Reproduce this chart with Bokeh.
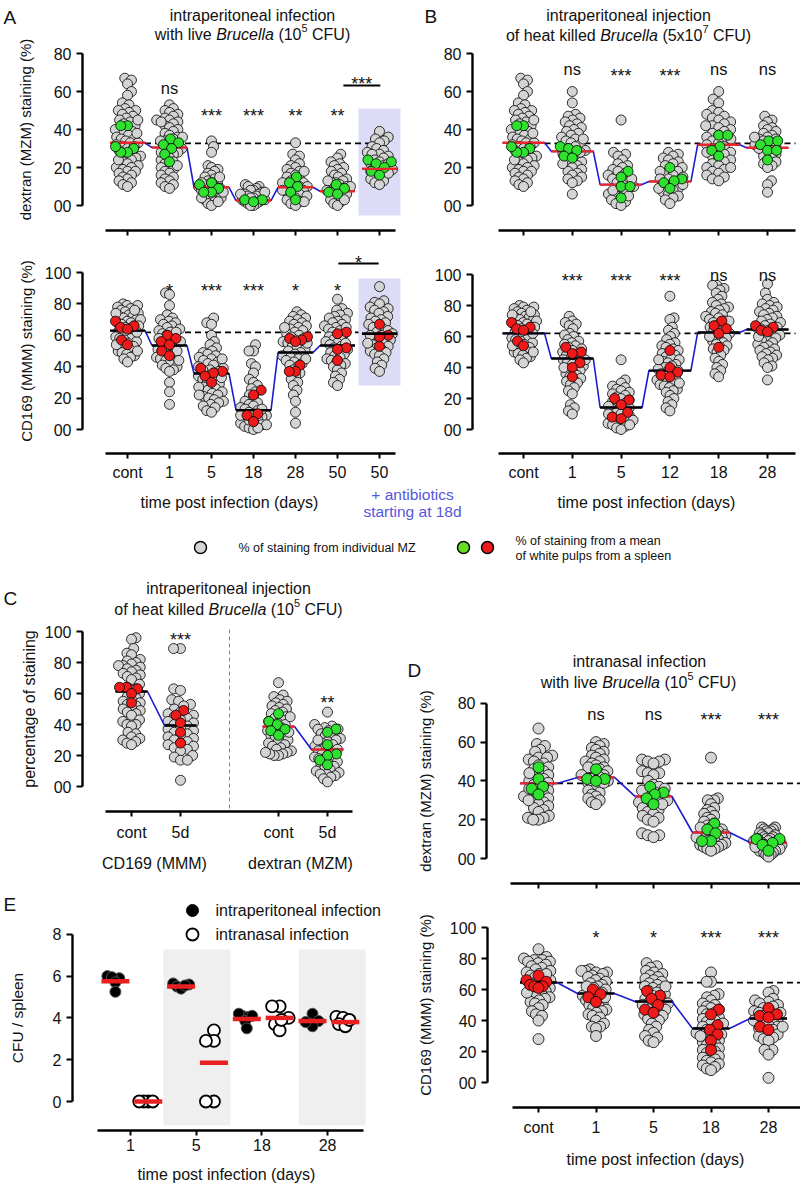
import numpy as np
from bokeh.plotting import figure
from bokeh.models import LinearAxis, FixedTicker, Range1d, BoxAnnotation
from bokeh.embed import file_html
from bokeh.resources import INLINE
from bokeh.core.properties import value

FONT = "Liberation Sans"
INK = "#111111"
GRAY = "#d4d4d4"
GREEN = "#2fe02f"
RED = "#ee1a1a"
MEANRED = "#e8262c"
BLUE = "#1c1cd0"
LAV = "#dcdcf7"
ABX = "#5656e0"
SHADE = "#efefef"

# ---------------------------------------------------------------- data
DEX_CTRL = [67, 66, 64, 60, 58, 54, 53, 51, 50, 50, 49, 48, 47, 46, 45, 44, 43, 42, 41, 40, 40, 39, 38, 37,
            36, 35, 35, 34, 33, 33, 32, 31, 30, 29, 28, 27, 26, 26, 25, 24, 23, 22, 21, 20, 20, 19, 18, 18,
            17, 16, 15, 14, 13, 12, 11, 10, 45, 38, 31, 24]
DEX_CTRL_SPLEEN = [42, 42, 30, 28, 28, 31]
CD_CTRL = [80, 79, 79, 78, 77, 76, 75, 74, 73, 72, 72, 71, 70, 69, 68, 68, 67, 66, 65, 64, 63, 62, 61, 60,
           59, 58, 57, 56, 55, 54, 53, 52, 51, 50, 49, 48, 47, 46, 45, 43, 70, 66, 62, 58, 54, 50, 76, 74]
CD_CTRL_SPLEEN = [69, 66, 65, 64, 57, 54]

# Panel A : intraperitoneal, live Brucella 10^5
A_DAYS = ["cont", "1", "5", "18", "28", "50", "50"]
A_DEX = [
    DEX_CTRL,
    [53, 51, 50, 49, 48, 47, 46, 45, 45, 44, 43, 42, 41, 40, 39, 38, 37, 36, 35, 34, 34, 33, 32, 31, 30, 30,
     29, 28, 27, 26, 25, 24, 23, 22, 21, 20, 19, 18, 17, 16, 15, 14, 13, 12, 11, 10, 9, 44, 36, 28, 21],
    [34, 31, 28, 21, 20, 19, 18, 17, 16, 15, 14, 13, 12, 12, 11, 10, 10, 9, 8, 8, 7, 6, 6, 5, 4, 4, 3, 2, 1,
     0, 12, 15, 9, 7, 4, 2],
    [11, 10, 10, 9, 8, 8, 7, 6, 6, 5, 5, 4, 4, 3, 3, 2, 2, 1, 1, 0, 0, 6, 3, 7],
    [33, 27, 26, 24, 22, 21, 20, 19, 18, 17, 16, 15, 14, 13, 12, 12, 11, 10, 10, 9, 8, 8, 7, 6, 5, 4, 3, 2,
     1, 0, 18, 12, 8, 5, 2],
    [27, 25, 23, 22, 21, 20, 19, 18, 17, 16, 15, 14, 13, 12, 12, 11, 10, 10, 9, 8, 8, 7, 6, 5, 4, 3, 2, 1, 0,
     13, 9, 6, 3],
    [39, 36, 35, 34, 33, 31, 30, 29, 28, 27, 27, 26, 25, 24, 23, 22, 21, 20, 19, 18, 17, 16, 15, 14, 13, 12,
     11, 22, 19, 17],
]
A_DEX_SPLEEN = [DEX_CTRL_SPLEEN, [35, 33, 32, 30, 27, 23], [12, 11, 9, 7, 7], [3, 3, 2],
                [15, 12, 10, 7, 3], [11, 9, 7, 6], [24, 23, 22, 20, 18, 16]]
A_DEX_MEAN = [33, 30.5, 9.6, 2.6, 9.6, 7.5, 19.3]
A_DEX_CTRL_LINE = 32.7

A_CD = [
    CD_CTRL,
    [87, 86, 79, 73, 71, 70, 69, 68, 67, 66, 65, 64, 63, 62, 61, 60, 59, 58, 57, 56, 55, 54, 53, 52, 51, 50,
     49, 48, 47, 46, 45, 44, 43, 42, 41, 40, 39, 38, 37, 30, 24, 16, 62, 56, 50, 44],
    [71, 68, 67, 60, 56, 54, 52, 50, 49, 48, 47, 46, 45, 44, 43, 42, 41, 40, 39, 38, 37, 36, 35, 34, 33, 32,
     31, 30, 29, 28, 27, 26, 25, 24, 23, 22, 21, 20, 19, 18, 17, 16, 15, 14, 12, 11, 45, 38, 33, 27, 22],
    [54, 50, 50, 42, 40, 36, 32, 30, 28, 26, 24, 22, 20, 18, 17, 16, 15, 14, 13, 12, 11, 10, 9, 8, 7, 6, 5,
     4, 3, 2, 1, 0, 13, 9, 6, 3, 1],
    [75, 73, 72, 71, 70, 69, 68, 67, 66, 65, 64, 63, 62, 61, 60, 59, 58, 57, 56, 55, 54, 53, 52, 51, 50, 49,
     48, 47, 46, 45, 44, 43, 42, 41, 40, 38, 36, 34, 32, 30, 28, 25, 22, 18, 11, 4, 65, 55, 45],
    [83, 77, 76, 74, 73, 72, 71, 70, 69, 68, 67, 66, 65, 64, 63, 62, 61, 60, 59, 58, 57, 56, 55, 54, 53, 52,
     51, 50, 49, 48, 47, 46, 45, 44, 43, 42, 41, 40, 38, 36, 34, 32, 30, 28, 65, 55],
    [91, 82, 81, 80, 78, 77, 76, 75, 74, 72, 71, 70, 69, 68, 67, 66, 65, 64, 63, 62, 61, 60, 59, 58, 57, 56,
     55, 54, 53, 52, 51, 50, 49, 48, 47, 45, 43, 41, 39, 37, 60, 55],
]
A_CD_SPLEEN = [CD_CTRL_SPLEEN, [60, 58, 56, 54, 50, 47], [39, 37, 36, 34, 30], [25, 22, 10, 9, 5],
               [59, 58, 57, 56, 41, 37, 37], [62, 61, 52, 51, 44], [67, 60, 59, 53]]
A_CD_MEAN = [63, 53.5, 35.7, 12.3, 49, 53.5, 61]
A_CD_CTRL_LINE = 61.8

# Panel B : intraperitoneal, heat killed 5x10^7
B_DAYS = ["cont", "1", "5", "12", "18", "28"]
B_DEX = [
    DEX_CTRL,
    [60, 54, 48, 47, 46, 45, 44, 43, 42, 41, 40, 39, 38, 37, 36, 35, 34, 33, 32, 31, 30, 29, 28, 27, 26, 25,
     24, 23, 22, 21, 20, 19, 18, 17, 16, 15, 14, 13, 12, 6, 35, 28, 22],
    [45, 28, 27, 26, 24, 22, 21, 20, 19, 18, 17, 16, 15, 14, 13, 12, 11, 10, 9, 8, 7, 6, 5, 4, 3, 2, 1, 0,
     14, 8, 5],
    [28, 27, 26, 25, 24, 23, 22, 21, 20, 19, 18, 17, 16, 15, 14, 13, 12, 11, 10, 9, 8, 7, 6, 5, 4, 3, 1, 18,
     11, 14, 9],
    [60, 56, 54, 50, 49, 48, 47, 46, 45, 44, 43, 42, 41, 40, 39, 38, 37, 36, 35, 34, 33, 32, 31, 30, 29, 28,
     27, 26, 25, 24, 23, 22, 21, 20, 19, 18, 17, 16, 15, 14, 13, 42, 35, 28, 20],
    [47, 45, 44, 42, 41, 40, 39, 38, 37, 36, 35, 35, 34, 33, 32, 32, 31, 30, 29, 28, 27, 26, 25, 24, 23, 22,
     21, 20, 13, 11, 7, 36, 30],
]
B_DEX_SPLEEN = [DEX_CTRL_SPLEEN, [31, 30, 29, 26, 25], [18, 15, 10, 10, 4], [20, 14, 13, 12, 9],
                [37, 37, 31, 29, 26], [34, 34, 32, 29, 29, 24]]
B_DEX_MEAN = [33, 28.5, 11, 12.6, 32, 30.4]
B_DEX_CTRL_LINE = 32.7

B_CD = [
    CD_CTRL,
    [73, 70, 69, 68, 67, 65, 62, 61, 60, 58, 57, 56, 55, 54, 53, 52, 51, 50, 49, 48, 47, 46, 45, 44, 43, 42,
     41, 40, 39, 38, 37, 36, 35, 34, 33, 32, 31, 30, 29, 27, 25, 23, 16, 14, 12, 10, 45, 40],
    [45, 32, 30, 28, 27, 26, 25, 24, 23, 22, 21, 20, 19, 18, 17, 16, 15, 14, 13, 12, 11, 10, 9, 8, 7, 6, 5,
     4, 3, 2, 1, 0, 15, 10, 6, 3],
    [86, 72, 71, 66, 64, 62, 60, 58, 56, 55, 54, 53, 52, 51, 50, 49, 48, 47, 46, 45, 44, 43, 42, 41, 40, 39,
     38, 37, 36, 35, 34, 33, 32, 31, 30, 29, 28, 27, 26, 25, 24, 22, 20, 18, 16, 14, 12, 45, 38, 30],
    [93, 93, 91, 90, 88, 86, 84, 82, 81, 80, 79, 78, 77, 76, 75, 74, 73, 72, 71, 70, 69, 68, 67, 66, 65, 64,
     63, 62, 61, 60, 59, 58, 57, 56, 55, 54, 53, 52, 51, 50, 48, 46, 44, 42, 40, 38, 36, 34, 70, 60],
    [94, 88, 84, 82, 81, 80, 79, 78, 77, 76, 75, 74, 73, 72, 71, 70, 69, 68, 67, 66, 65, 64, 63, 62, 61, 60,
     59, 58, 57, 56, 55, 54, 53, 52, 51, 50, 49, 48, 47, 46, 45, 43, 41, 40, 32, 66, 60],
]
B_CD_SPLEEN = [CD_CTRL_SPLEEN, [53, 50, 49, 43, 40, 34], [20, 19, 16, 11, 8, 7], [51, 40, 37, 35, 34],
               [70, 67, 65, 62, 53], [67, 66, 64, 63]]
B_CD_MEAN = [62, 45.8, 14.2, 38, 62.6, 64.5]
B_CD_CTRL_LINE = 62

# Panel C : intraperitoneal, heat killed 10^5
C_TICKS = ["cont", "5d", "cont", "5d"]
C_MARKERS = ["CD169 (MMM)", "dextran (MZM)"]
C_GROUPS = [
    [96, 95, 89, 86, 85, 82, 81, 80, 79, 78, 78, 77, 76, 75, 74, 73, 72, 71, 70, 69, 66, 64, 63, 62, 60, 58,
     57, 56, 55, 54, 53, 52, 51, 50, 49, 48, 47, 46, 43, 42, 40, 40, 39, 35, 34, 32, 31, 30, 29, 28, 27],
    [89, 89, 63, 62, 56, 55, 53, 52, 50, 48, 47, 46, 45, 44, 43, 42, 41, 40, 39, 38, 37, 36, 35, 34, 33, 32,
     31, 30, 29, 28, 27, 26, 25, 24, 23, 20, 19, 17, 17, 4],
    [67, 59, 58, 56, 55, 54, 53, 52, 51, 50, 49, 48, 47, 46, 45, 44, 43, 42, 41, 40, 39, 38, 37, 36, 35, 34,
     33, 32, 31, 30, 29, 28, 27, 26, 25, 24, 23, 22, 21, 20, 20, 21, 22, 45, 35],
    [48, 40, 39, 38, 37, 37, 36, 35, 34, 33, 32, 31, 30, 29, 28, 27, 26, 25, 24, 23, 22, 21, 20, 19, 18, 17,
     16, 15, 14, 13, 12, 11, 10, 9, 8, 8, 7, 6, 5, 3, 30, 24, 18],
]
C_SPLEEN = [[64, 64, 63, 60, 54], [49, 46, 41, 35, 28], [47, 42, 40, 37, 36, 33], [37, 35, 27, 21, 20, 17, 14]]
C_MEAN = [61.3, 39.4, 38.7, 23.9]

# Panel D : intranasal, live Brucella 10^5
D_DAYS = ["cont", "1", "5", "18", "28"]
D_DEX = [
    [67, 59, 58, 56, 55, 53, 52, 52, 51, 50, 49, 48, 47, 46, 45, 44, 43, 42, 41, 40, 40, 39, 38, 37, 36, 35,
     34, 33, 32, 32, 31, 30, 29, 28, 27, 26, 25, 24, 22, 21, 21, 20, 20, 44, 36, 30],
    [60, 59, 58, 57, 56, 55, 54, 53, 52, 51, 50, 50, 49, 48, 47, 46, 45, 45, 44, 43, 42, 42, 41, 40, 40, 39,
     38, 37, 36, 35, 34, 33, 32, 31, 30, 29, 28, 47, 43, 39],
    [51, 51, 50, 50, 49, 45, 44, 44, 43, 40, 38, 37, 36, 35, 34, 33, 32, 31, 30, 30, 29, 28, 27, 26, 25, 24,
     23, 22, 21, 20, 19, 13, 12, 12, 11, 35, 28],
    [52, 31, 30, 30, 28, 26, 25, 24, 23, 22, 21, 20, 19, 18, 17, 16, 15, 14, 14, 13, 13, 12, 12, 11, 11, 10,
     10, 9, 9, 8, 8, 7, 7, 6, 6, 5, 5, 4, 16, 11],
    [16, 16, 15, 15, 14, 14, 13, 13, 12, 12, 11, 11, 10, 10, 10, 9, 9, 9, 8, 8, 8, 7, 7, 7, 6, 6, 6, 5, 5, 5,
     4, 4, 4, 3, 3, 2, 2, 1, 9, 6],
]
D_DEX_SPLEEN = [[47, 41, 37, 36, 33], [46, 41, 41, 40], [37, 34, 33, 31, 28], [18, 15, 13, 9, 9],
                [10, 10, 8, 7, 4]]
D_DEX_MEAN = [38.7, 41.8, 32, 13.4, 8.2]
D_DEX_CTRL_LINE = 38.7

D_CD = [
    [86, 81, 80, 79, 79, 78, 78, 77, 76, 75, 74, 73, 72, 71, 70, 69, 68, 67, 66, 65, 64, 63, 62, 61, 60, 59,
     58, 57, 56, 55, 54, 53, 52, 51, 50, 48, 46, 44, 43, 40, 28, 70, 64, 58],
    [73, 72, 72, 71, 71, 70, 69, 68, 67, 66, 65, 64, 63, 62, 61, 60, 59, 58, 57, 56, 55, 54, 53, 52, 51, 50,
     49, 48, 47, 46, 45, 44, 43, 42, 40, 38, 36, 36, 35, 30, 62, 55],
    [77, 75, 74, 72, 71, 70, 69, 68, 67, 66, 65, 64, 63, 62, 61, 60, 59, 58, 57, 56, 55, 54, 53, 52, 51, 50,
     49, 48, 47, 46, 45, 44, 43, 42, 41, 40, 38, 36, 34, 32, 30, 29, 27, 26, 62, 50],
    [71, 65, 65, 57, 56, 55, 53, 51, 50, 49, 48, 47, 46, 45, 44, 43, 42, 41, 40, 39, 38, 37, 36, 35, 34, 33,
     32, 31, 30, 29, 28, 27, 26, 25, 24, 23, 22, 21, 20, 19, 18, 17, 16, 15, 14, 13, 12, 11, 10, 9, 8, 38, 30],
    [59, 58, 54, 53, 52, 51, 50, 49, 48, 47, 46, 45, 44, 43, 42, 41, 40, 39, 38, 37, 36, 35, 34, 33, 32, 31,
     30, 29, 28, 27, 21, 21, 18, 3, 45, 40, 36],
]
D_CD_SPLEEN = [[69, 66, 65, 63, 62, 62, 61], [60, 57, 55, 52], [59, 56, 54, 50, 47, 45],
               [47, 44, 37, 34, 31, 27, 21], [48, 44, 43, 42, 36, 34]]
D_CD_MEAN = [64.5, 57.4, 52.3, 34.8, 41.3]
D_CD_CTRL_LINE = 64.5

# Panel E : CFU / spleen (log)
E_DAYS = ["1", "5", "18", "28"]
E_IP = [[6.0, 5.9, 5.95, 5.7, 5.25], [5.65, 5.6, 5.5, 5.4, 5.55], [4.1, 4.2, 4.05, 3.85, 3.5, 4.1],
        [4.2, 3.85, 3.6, 3.8]]
E_IN = [[0, 0, 0, 0], [3.4, 2.9, 2.9, 0, 0], [4.55, 4.55, 4.0, 3.7, 3.4, 3.9], [4.05, 4.0, 3.7, 3.6, 3.9]]
E_IP_MEAN = [5.75, 5.5, 3.95, 3.85]
E_IN_MEAN = [0, 1.85, 4.0, 3.8]

# ---------------------------------------------------------------- helpers
AW = {'a': 556, 'b': 556, 'c': 500, 'd': 556, 'e': 556, 'f': 278, 'g': 556, 'h': 556, 'i': 222, 'j': 222,
      'k': 500, 'l': 222, 'm': 833, 'n': 556, 'o': 556, 'p': 556, 'q': 556, 'r': 333, 's': 500, 't': 278,
      'u': 556, 'v': 500, 'w': 722, 'x': 500, 'y': 500, 'z': 500, 'A': 667, 'B': 667, 'C': 722, 'D': 722,
      'E': 667, 'F': 611, 'M': 833, 'U': 722, 'Z': 611, ' ': 278, '(': 333, ')': 333, '%': 889, '*': 389,
      '+': 584, '/': 278}


def text_width(s, size):
    return sum(AW.get(c, 556) for c in s) / 1000.0 * size


PW, PH = 800, 1183
p = figure(width=PW, height=PH, x_range=Range1d(0, PW), y_range=Range1d(PH, 0),
           x_axis_type=None, y_axis_type=None, output_backend="svg", toolbar_location=None,
           title=None, min_border=0, outline_line_color=None,
           background_fill_color="white", border_fill_color="white")
p.min_border_left = p.min_border_right = p.min_border_top = p.min_border_bottom = 0
p.grid.visible = False


class Sec:
    def __init__(self, xo=0, yo=0):
        self.xo, self.yo = xo, yo

    def pg(self, rx, ry):
        return rx + self.xo, ry + self.yo


class Sub(Sec):
    def __init__(self, name, xcal, ycal, xo=0, yo=0):
        super().__init__(xo, yo)
        self.xc, self.xs = xcal
        self.yc, self.ys = ycal
        self.xn, self.yn = name + "_x", name + "_y"
        p.extra_x_ranges[self.xn] = Range1d(self.dx(0 - xo), self.dx(PW - xo))
        p.extra_y_ranges[self.yn] = Range1d(self.dy(PH - yo), self.dy(0 - yo))

    def dx(self, rx):
        return (rx - self.xc) / self.xs

    def dy(self, ry):
        return (self.yc - ry) / self.ys

    def kw(self):
        return dict(x_range_name=self.xn, y_range_name=self.yn)


def txt(sec, rx, ry, s, size=15.5, align="center", base="alphabetic", color=INK, style="normal"):
    x, y = sec.pg(rx, ry)
    p.text(x=[x], y=[y], text=[s], text_font=value(FONT), text_font_size=value(f"{size:.1f}px"),
           text_align=align, text_baseline=base, text_color=color, text_font_style=style)


def rich(sec, cx, base, pieces, size=16.0):
    sup = size * 0.68
    widths = [text_width(t, sup if st == "sup" else size) for t, st in pieces]
    x = cx - sum(widths) / 2
    for (t, st), w in zip(pieces, widths):
        fs = sup if st == "sup" else size
        lead = text_width(t[:len(t) - len(t.lstrip())], fs)
        yb = base - size * 0.4 if st == "sup" else base
        txt(sec, x + lead, yb, t.strip(), size=fs, align="left", style="italic" if st == "i" else "normal")
        x += w


def style_axis(ax, fs):
    ax.axis_line_color = "black"
    ax.axis_line_width = 2.4
    ax.major_tick_line_color = "black"
    ax.major_tick_line_width = 2.2
    ax.major_tick_out = 6
    ax.major_tick_in = 0
    ax.minor_tick_out = 0
    ax.minor_tick_in = 0
    ax.major_label_text_font = FONT
    ax.major_label_text_font_size = fs
    ax.major_label_text_color = INK
    ax.major_label_standoff = 5
    ax.axis_label_text_font = FONT
    ax.axis_label_text_font_style = "normal"
    ax.axis_label_text_color = INK


def yaxis(S, rx, ticks, labels, lo, hi, label="", standoff=10, fs="16px", lfs="15px"):
    ax = LinearAxis(fixed_location=S.dx(rx), ticker=FixedTicker(ticks=ticks), bounds=(lo, hi), **S.kw())
    style_axis(ax, fs)
    ax.major_label_overrides = {t: l for t, l in zip(ticks, labels)}
    ax.axis_label = label
    ax.axis_label_standoff = standoff
    ax.axis_label_text_font_size = lfs
    p.add_layout(ax, "left")


def xaxis(S, ry, ticks, labels, rx0, rx1, fs="16px", standoff=5):
    ax = LinearAxis(fixed_location=S.dy(ry), ticker=FixedTicker(ticks=ticks),
                    bounds=(S.dx(rx0), S.dx(rx1)), **S.kw())
    style_axis(ax, fs)
    ax.major_tick_out = 5
    ax.major_tick_line_width = 2
    ax.major_label_standoff = standoff
    ax.major_label_overrides = {t: l for t, l in zip(ticks, labels)}
    p.add_layout(ax, "below")


def swarm_offsets(vals, ppu, diam, maxw):
    v = np.asarray(vals, float)
    y = v * ppu
    order = np.argsort(v, kind="stable")
    px, py = [], []
    off = np.zeros(len(v))
    for k, i in enumerate(order):
        yi = y[i]
        cands = [0.0]
        for a, b in zip(px, py):
            d = abs(b - yi)
            if d < diam:
                s = (diam * diam - d * d) ** 0.5
                cands += [a + s, a - s]
        sgn = 1 if k % 2 else -1
        cands.sort(key=lambda c: (round(abs(c), 6), sgn * c))
        best = 0.0
        for c in cands:
            if all((a - c) ** 2 + (b - yi) ** 2 >= diam * diam - 1e-6 for a, b in zip(px, py)):
                best = c
                break
        off[i] = best
        px.append(best)
        py.append(yi)
    m = np.abs(off).max() if len(off) else 0
    if m > maxw:
        off *= maxw / m
    return off


def points(S, xpos, groups, color, size, diam, maxw, lw=0.8, line="black"):
    xs, ys = [], []
    for x0, vals in zip(xpos, groups):
        off = swarm_offsets(vals, S.ys, diam, maxw)
        xs += list(x0 + off / S.xs)
        ys += list(vals)
    p.scatter(xs, ys, size=size, fill_color=color, line_color=line, line_width=lw, **S.kw())


def mean_bars(S, xpos, means, hw_px, colors, width=2.4):
    hw = hw_px / S.xs
    p.segment(x0=[x - hw for x in xpos], x1=[x + hw for x in xpos], y0=means, y1=means,
              line_color=colors, line_width=width, **S.kw())


def blue_line(S, xpos, means, idx, hw_px):
    hw = hw_px / S.xs
    bx, by = [], []
    for i in idx:
        bx += [xpos[i] - hw, xpos[i] + hw]
        by += [means[i], means[i]]
    p.line(bx, by, line_color=BLUE, line_width=1.6, **S.kw())


def ctrl_dash(S, x0, x1, yv):
    p.line([x0, x1], [yv, yv], line_color="black", line_width=1.8, line_dash="6 4", **S.kw())


def sig(S, xpos, labels, ys):
    for i, l in enumerate(labels):
        if not l:
            continue
        star = "*" in l
        yv = ys[i] - (1.8 / S.ys if star else 0)
        p.text(x=[xpos[i]], y=[yv], text=[l], text_font=value(FONT),
               text_font_size=value("18px" if star else "16.5px"),
               text_align="center", text_baseline="alphabetic", text_color=INK, **S.kw())


def bracket(S, x0, x1, yline, label, ylab):
    p.segment(x0=[x0], x1=[x1], y0=[yline], y1=[yline], line_color="black", line_width=2, **S.kw())
    p.text(x=[(x0 + x1) / 2], y=[ylab - 1.8 / S.ys], text=[label], text_font=value(FONT),
           text_font_size=value("18px"), text_align="center", text_baseline="alphabetic",
           text_color=INK, **S.kw())


def swarm_panel(S, groups, spleen, spl_color, means, bar_color, series, hw_px, maxw, msize=10, diam=7.0):
    xpos = list(range(len(groups)))
    points(S, xpos, groups, GRAY, msize, diam, maxw)
    blue_line(S, xpos, means, series, hw_px)
    mean_bars(S, xpos, means, hw_px, [bar_color] * len(groups))
    points(S, xpos, spleen, spl_color, msize, 9.0, 12)
    return xpos


TOP = 0
LEG = 0
BOT = -6

# ---------------------------------------------------------------- Panel A
sA = Sec(0, TOP)
txt(sA, 3, 17, "A", size=19, align="left")
rich(sA, 252, 15, [("intraperitoneal infection", "n")])
rich(sA, 252, 34, [("with live ", "n"), ("Brucella", "i"), (" (10", "n"), ("5", "sup"), (" CFU)", "n")])

AT = Sub("at", (127, 42), (205, 1.9), 0, TOP)
p.add_layout(BoxAnnotation(left=5.5, right=6.5, bottom=AT.dy(215), top=AT.dy(108), fill_color=LAV,
                           fill_alpha=1, line_color=None, level="underlay", **AT.kw()))
ctrl_dash(AT, 17.5 / 42, 6.2, A_DEX_CTRL_LINE)
xp = swarm_panel(AT, A_DEX, A_DEX_SPLEEN, GREEN, A_DEX_MEAN, MEANRED, range(6), 17.5, 13)
mean_bars(AT, [6], [A_DEX_MEAN[6]], 17.5, [MEANRED])
sig(AT, xp, ["", "ns", "***", "***", "**", "**", ""], [0, 62, 48, 48, 48, 48, 0])
bracket(AT, 5.14, 6.02, 63.2, "***", 64.9)
yaxis(AT, 82, [0, 20, 40, 60, 80], ["00", "20", "40", "60", "80"], 0, 80,
      "dextran (MZM) staining (%)", 17)
xaxis(AT, 230, list(range(7)), [""] * 7, 105, 395)

AB = Sub("ab", (127, 42), (429, 1.57), 0, TOP)
p.add_layout(BoxAnnotation(left=5.5, right=6.5, bottom=AB.dy(385), top=AB.dy(278), fill_color=LAV,
                           fill_alpha=1, line_color=None, level="underlay", **AB.kw()))
ctrl_dash(AB, 17.5 / 42, 5.5, A_CD_CTRL_LINE)
xp = swarm_panel(AB, A_CD, A_CD_SPLEEN, RED, A_CD_MEAN, "black", range(6), 17.5, 13)
mean_bars(AB, [6], [A_CD_MEAN[6]], 17.5, ["black"])
sig(AB, xp, ["", "*", "***", "***", "*", "*", ""], [0] + [89.4] * 5 + [0])
bracket(AB, 5.02, 5.98, 105.7, "*", 107.3)
yaxis(AB, 82, [0, 20, 40, 60, 80, 100], ["00", "20", "40", "60", "80", "100"], 0, 100,
      "CD169 (MMM) staining (%)", 7)
xaxis(AB, 453, list(range(7)), A_DAYS, 105, 395)
txt(sA, 229, 502, "time post infection (days)", size=16)
txt(sA, 412, 494, "+ antibiotics", size=15.5, color=ABX)
txt(sA, 412, 511, "starting at 18d", size=15.5, color=ABX)

# ---------------------------------------------------------------- Panel B
sB = Sec(0, TOP)
txt(sB, 424, 16, "B", size=19, align="left")
rich(sB, 628, 15, [("intraperitoneal injection", "n")])
rich(sB, 628, 35, [("of heat killed ", "n"), ("Brucella", "i"), (" (5x10", "n"), ("7", "sup"), (" CFU)", "n")])

BT = Sub("bt", (523, 48.8), (205, 1.9), 0, TOP)
ctrl_dash(BT, 21 / 48.8, BT.dx(795), B_DEX_CTRL_LINE)
xp = swarm_panel(BT, B_DEX, B_DEX_SPLEEN, GREEN, B_DEX_MEAN, MEANRED, range(6), 21, 13)
sig(BT, xp, ["", "ns", "***", "***", "ns", "ns"], [0, 71.6, 69.2, 69.2, 71.6, 71.6])
yaxis(BT, 472, [0, 20, 40, 60, 80], ["00", "20", "40", "60", "80"], 0, 80)
xaxis(BT, 230, list(range(6)), [""] * 6, 498, 795)

BB = Sub("bb", (523, 48.8), (429, 1.55), 0, TOP)
ctrl_dash(BB, 21 / 48.8, BB.dx(795), B_CD_CTRL_LINE)
xp = swarm_panel(BB, B_CD, B_CD_SPLEEN, RED, B_CD_MEAN, "black", range(6), 21, 13)
sig(BB, xp, ["", "***", "***", "***", "ns", "ns"], [0, 97, 97, 97, 100, 100])
yaxis(BB, 472, [0, 20, 40, 60, 80, 100], ["00", "20", "40", "60", "80", "100"], 0, 100)
xaxis(BB, 453, list(range(6)), B_DAYS, 498, 795)
txt(sB, 646, 502, "time post infection (days)", size=16)

# ---------------------------------------------------------------- legend
sL = Sec(0, LEG)
lx, ly = sL.pg(200, 547)
p.scatter([lx], [ly], size=12, fill_color=GRAY, line_color="black", line_width=1.5)
gx, _ = sL.pg(463, 547)
rx, _ = sL.pg(487, 547)
p.scatter([gx], [ly], size=12, fill_color="#66dd22", line_color="black", line_width=1.5)
p.scatter([rx], [ly], size=12, fill_color=RED, line_color="black", line_width=1.5)
txt(sL, 238, 547, "% of staining from individual MZ", size=12.5, align="left", base="middle")
txt(sL, 515, 540, "% of staining from a mean", size=12.5, align="left", base="middle")
txt(sL, 515, 555, "of white pulps from a spleen", size=12.5, align="left", base="middle")

# ---------------------------------------------------------------- Panel C
sC = Sec(0, BOT)
txt(sC, 3, 604, "C", size=19, align="left")
rich(sC, 228, 594, [("intraperitoneal injection", "n")])
rich(sC, 228, 615, [("of heat killed ", "n"), ("Brucella", "i"), (" (10", "n"), ("5", "sup"), (" CFU)", "n")])
CC = Sub("c", (131, 49), (792, 1.55), 0, BOT)
cpos = [0, 1, 3, 4]
p.line([2, 2], [CC.dy(635), CC.dy(817)], line_color="#8a8a8a", line_width=1, line_dash="4 3", **CC.kw())
points(CC, cpos, C_GROUPS, GRAY, 10, 7.0, 13)
blue_line(CC, cpos, C_MEAN, [0, 1], 16)
blue_line(CC, cpos, C_MEAN, [2, 3], 16)
mean_bars(CC, cpos, C_MEAN, 16, ["black", "black", MEANRED, MEANRED])
points(CC, cpos[:2], C_SPLEEN[:2], RED, 10, 9.0, 12)
points(CC, cpos[2:], C_SPLEEN[2:], GREEN, 10, 9.0, 12)
sig(CC, cpos, ["", "***", "", "**"], [0, 95.7, 0, 55.1])
yaxis(CC, 82, [0, 20, 40, 60, 80, 100], ["00", "20", "40", "60", "80", "100"], 0, 100,
      "percentage of staining", 4, lfs="16px")
xaxis(CC, 817, cpos, C_TICKS, 105, 352, standoff=7)
txt(sC, 154, 869, C_MARKERS[0], size=16)
txt(sC, 300, 869, C_MARKERS[1], size=16)

# ---------------------------------------------------------------- Panel D
sD = Sec(0, BOT)
txt(sD, 407, 676, "D", size=19, align="left")
rich(sD, 639, 667, [("intranasal infection", "n")])
rich(sD, 638, 688, [("with live ", "n"), ("Brucella", "i"), (" (10", "n"), ("5", "sup"), (" CFU)", "n")])

DT = Sub("dt", (538, 57.5), (864, 1.94), 0, BOT)
ctrl_dash(DT, 18.5 / 57.5, DT.dx(800), D_DEX_CTRL_LINE)
xp = swarm_panel(DT, D_DEX, D_DEX_SPLEEN, GREEN, D_DEX_MEAN, MEANRED, range(5), 18.5, 14.5, msize=11, diam=7.5)
sig(DT, xp, ["", "ns", "ns", "***", "***"], [0, 74.7, 74.7, 72.4, 72.4])
yaxis(DT, 486, [0, 20, 40, 60, 80], ["00", "20", "40", "60", "80"], 0, 80,
      "dextran (MZM) staining (%)", 21)
xaxis(DT, 889, list(range(5)), [""] * 5, 510, 800)

DB = Sub("db", (538, 57.5), (1088, 1.55), 0, BOT)
ctrl_dash(DB, 18.5 / 57.5, DB.dx(800), D_CD_CTRL_LINE)
xp = swarm_panel(DB, D_CD, D_CD_SPLEEN, RED, D_CD_MEAN, "black", range(5), 18.5, 14.5, msize=11, diam=7.5)
sig(DB, xp, ["", "*", "*", "***", "***"], [0] + [94.5] * 4)
yaxis(DB, 487, [0, 20, 40, 60, 80, 100], ["00", "20", "40", "60", "80", "100"], 0, 100,
      "CD169 (MMM) staining (%)", 13)
xaxis(DB, 1113, list(range(5)), D_DAYS, 512, 800, standoff=6)
txt(sD, 655, 1165, "time post infection (days)", size=16)

# ---------------------------------------------------------------- Panel E
sE = Sec(0, BOT)
txt(sE, 3, 910, "E", size=19, align="left")
EE = Sub("e", (130, 65.7), (1107, 20.9), 0, BOT)
for left in (0.5, 2.56):
    p.add_layout(BoxAnnotation(left=left, right=left + 1.02, bottom=EE.dy(1131), top=EE.dy(955),
                               fill_color=SHADE, fill_alpha=1, line_color=None, level="underlay", **EE.kw()))
epos = list(range(4))
ip_x = [k - 0.23 for k in epos]
in_x = [k + 0.27 for k in epos]
points(EE, ip_x, E_IP, "black", 11, 8.0, 8, lw=1.0, line="#555555")
points(EE, in_x, E_IN, "white", 12, 8.0, 9, lw=1.8)
mean_bars(EE, ip_x + in_x, E_IP_MEAN + E_IN_MEAN, 14, ["#e82020"] * 8, width=4.5)
yaxis(EE, 72, [0, 2, 4, 6, 8], ["0", "2", "4", "6", "8"], 0, 8, "CFU / spleen", 24, fs="16px", lfs="15.5px")
xaxis(EE, 1136, epos, E_DAYS, 97, 363, fs="16px", standoff=3)
txt(sE, 226, 1180, "time post infection (days)", size=16)
l1x, l1y = sE.pg(192, 916)
l2x, l2y = sE.pg(192, 940)
p.scatter([l1x], [l1y], size=12, fill_color="black", line_color="black")
p.scatter([l2x], [l2y], size=12, fill_color="white", line_color="black", line_width=1.8)
txt(sE, 215, 916, "intraperitoneal infection", size=16, align="left", base="middle")
txt(sE, 215, 940, "intranasal infection", size=16, align="left", base="middle")

open("out.html", "w").write(file_html(p, INLINE))
